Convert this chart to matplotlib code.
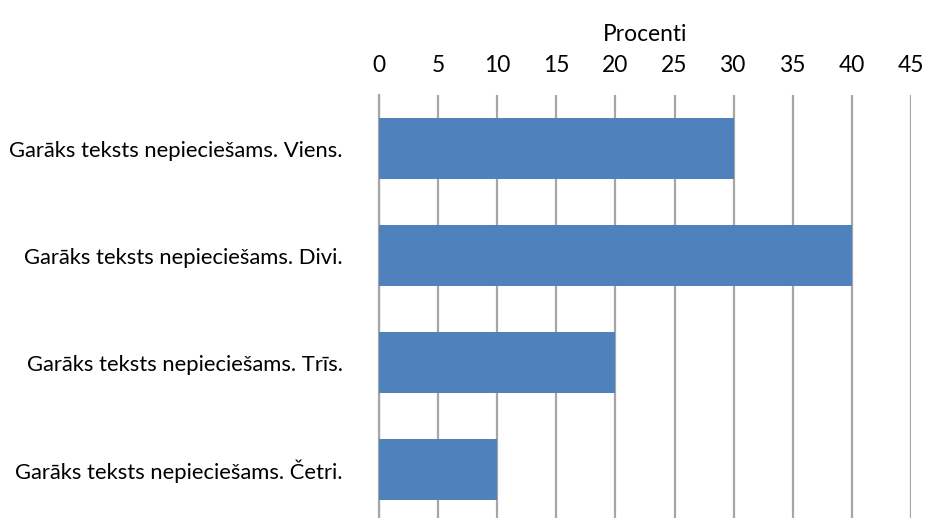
import matplotlib
matplotlib.use('Agg')
import matplotlib.pyplot as plt

# Bar chart data
categories = [
    "Garāks teksts nepieciešams. Viens.",
    "Garāks teksts nepieciešams. Divi.",
    "Garāks teksts nepieciešams. Trīs.",
    "Garāks teksts nepieciešams. Četri.",
]
values = [30, 40, 20, 10]
x_ticks = [0, 5, 10, 15, 20, 25, 30, 35, 40, 45]

BAR_COLOR = "#4F81BD"
GRID_COLOR = "#A6A6A6"

plt.rcParams['font.family'] = ['Lato', 'DejaVu Sans']

fig = plt.figure(figsize=(9.25, 5.18), dpi=100)
ax = fig.add_axes([379 / 925, 1 - 523 / 518, (911 - 379) / 925, (523 - 95) / 518])

pos = list(range(len(categories)))
ax.barh(pos, values, height=0.5625, color=BAR_COLOR, zorder=3)

ax.set_xlim(0, 45)
ax.set_ylim(len(categories) - 0.5, -0.5)
ax.set_xticks(x_ticks)
ax.xaxis.tick_top()
ax.xaxis.set_label_position('top')
ax.set_xlabel("Procenti", fontsize=16.4, labelpad=10)
ax.tick_params(axis='x', length=0, pad=14, labelsize=16.4)
ax.set_yticks(pos)
ax.set_yticklabels(categories)
ax.tick_params(axis='y', length=0, pad=26, labelsize=15.8)

ax.xaxis.grid(True, color=GRID_COLOR, linewidth=1.6, zorder=0)
ax.set_axisbelow(True)
for side in ["top", "right", "bottom"]:
    ax.spines[side].set_visible(False)
ax.spines["left"].set_color(GRID_COLOR)
ax.spines["left"].set_linewidth(1.6)

fig.savefig("out.png", dpi=100)
